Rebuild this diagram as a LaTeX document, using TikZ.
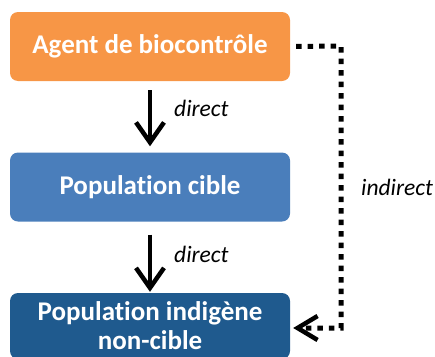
\documentclass[tikz,border=0pt]{standalone}
\usepackage{fontspec}
\setmainfont[Ligatures={NoCommon}]{Carlito}
\usetikzlibrary{arrows.meta}
\definecolor{orangebox}{HTML}{F79646}
\definecolor{bluebox}{HTML}{4A7EBB}
\definecolor{darkbox}{HTML}{1F5A8E}
\begin{document}
\begin{tikzpicture}[x=1pt,y=-1pt,
  boxstyle/.style={rounded corners=8pt, minimum width=280pt, minimum height=69pt, inner sep=0pt,
    text=white, font=\fontsize{27}{32}\selectfont\bfseries, align=center},
  directarrow/.style={line width=4.5pt, -{Straight Barb[length=20pt,width=28pt,line width=4.5pt]}},
  indirectline/.style={line width=5pt, dash pattern=on 5.5pt off 6pt,
    -{Straight Barb[length=20pt,width=24pt,line width=4.5pt]}},
  lbl/.style={font=\fontsize{23.5}{28}\selectfont\itshape, inner sep=0pt}]
\useasboundingbox (0,0) rectangle (435,356);
\node[boxstyle, fill=orangebox] (a) at (150,46.5) {Agent de biocontrôle};
\node[boxstyle, fill=bluebox] (b) at (150,187) {Population cible};
\node[boxstyle, fill=darkbox, minimum height=66pt] (c) at (150,326) {Population indigène\\[-3pt]non-cible};
\draw[directarrow, shorten <=9pt, shorten >=6pt] (a) -- (b);
\draw[directarrow, shorten <=13pt, shorten >=1pt] (b) -- (c);
\node[lbl, anchor=west] (l1) at (174,108) {direct};
\node[lbl, anchor=west] (l2) at (174,254) {direct};
\coordinate (c1) at (341,46);
\coordinate (c2) at (341,328);
\draw[indirectline, shorten <=6pt, shorten >=3pt] (a.east) -- (c1) -- (c2) -- (c.east |- c2);
\node[lbl, anchor=west] (l3) at (361,187) {indirect};
\end{tikzpicture}
\end{document}
